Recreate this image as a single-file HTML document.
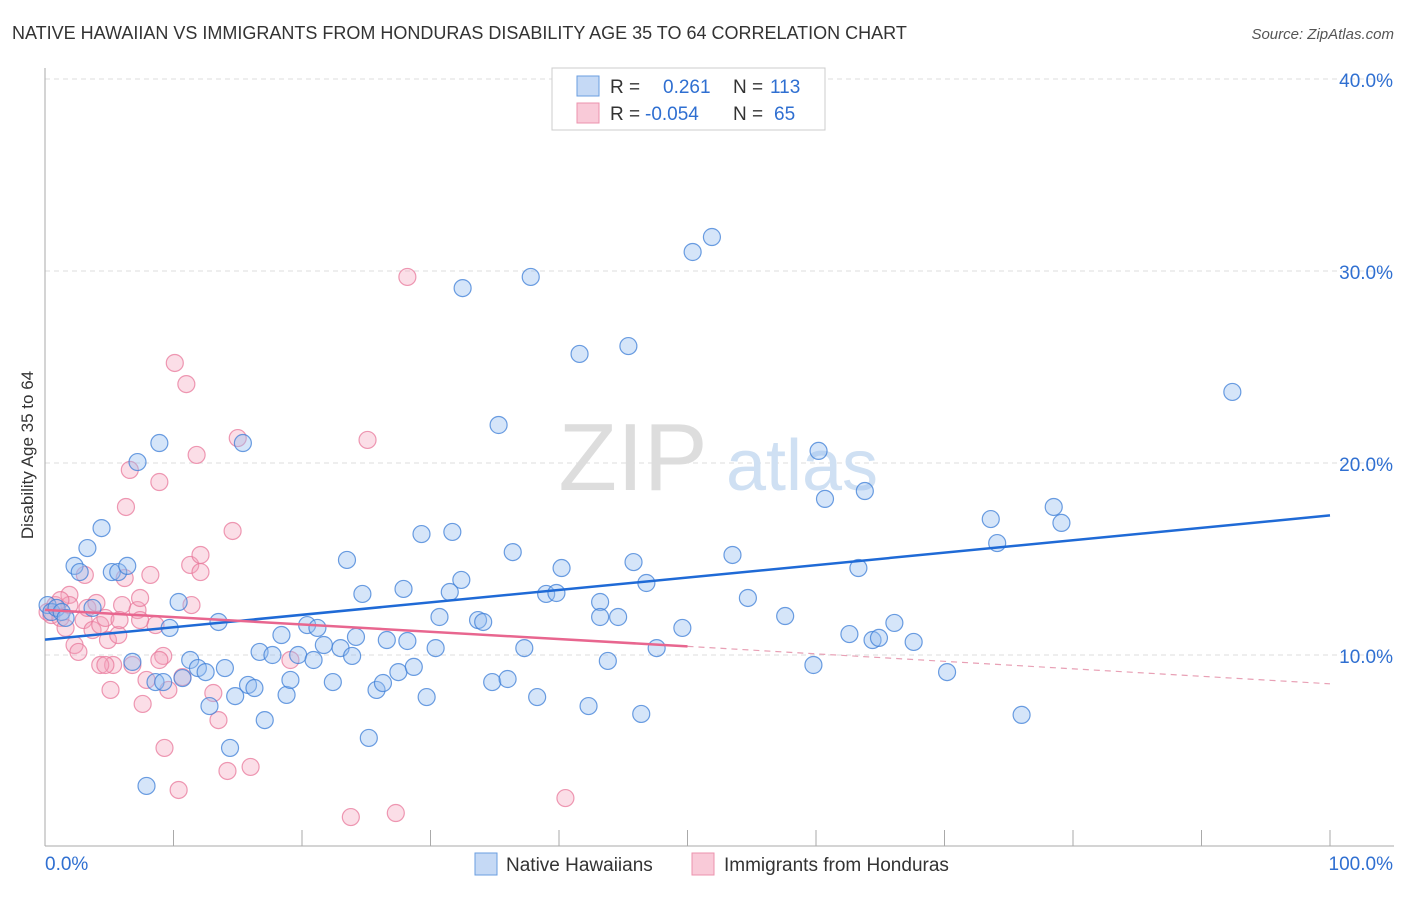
<!DOCTYPE html>
<html><head><meta charset="utf-8"><style>
body{margin:0;background:#fff;font-family:"Liberation Sans",sans-serif;}
svg text{font-family:"Liberation Sans",sans-serif;}
</style></head><body>
<svg id="chart" width="1406" height="892" viewBox="0 0 1406 892" xmlns="http://www.w3.org/2000/svg">
<text x="12" y="39" font-size="18" fill="#333">NATIVE HAWAIIAN VS IMMIGRANTS FROM HONDURAS DISABILITY AGE 35 TO 64 CORRELATION CHART</text>
<text x="1394" y="39" font-size="15" fill="#555" text-anchor="end" font-style="italic">Source: ZipAtlas.com</text>
<text transform="translate(33,455) rotate(-90)" font-size="17" fill="#333" text-anchor="middle">Disability Age 35 to 64</text>
<g id="grid"></g>
<g>
<text x="633" y="490" font-size="96" fill="#ddd" text-anchor="middle" font-family="Liberation Serif,serif">ZIP</text>
<text x="802" y="490" font-size="72" fill="#cfe0f3" text-anchor="middle">atlas</text>
</g>
<g id="axes"></g>
<g id="pink"></g>
<g id="blue"></g>
<g id="lines"></g>
<g>
<rect x="552" y="68" width="273" height="62" fill="#fff" stroke="#ccc"/>
<rect x="577" y="76" width="22" height="20" fill="#c5d9f5" stroke="#6a9ee0"/>
<rect x="577" y="103" width="22" height="20" fill="#f9cad8" stroke="#ec93ae"/>
<text x="610" y="93" font-size="19" fill="#333">R =</text>
<text x="663" y="93" font-size="19" fill="#2f6fd1">0.261</text>
<text x="733" y="93" font-size="19" fill="#333">N =</text>
<text x="770" y="93" font-size="19" fill="#2f6fd1">113</text>
<text x="610" y="120" font-size="19" fill="#333">R =</text>
<text x="645" y="120" font-size="19" fill="#2f6fd1">-0.054</text>
<text x="733" y="120" font-size="19" fill="#333">N =</text>
<text x="774" y="120" font-size="19" fill="#2f6fd1">65</text>
</g>
<g>
<rect x="475" y="853" width="22" height="22" fill="#c5d9f5" stroke="#6a9ee0"/>
<text x="506" y="871" font-size="19" fill="#333">Native Hawaiians</text>
<rect x="692" y="853" width="22" height="22" fill="#f9cad8" stroke="#ec93ae"/>
<text x="724" y="871" font-size="19" fill="#333">Immigrants from Honduras</text>
</g>
</svg>
<script>
const blueXPx=[48,52,57,62,66,75,80,87,93,101,112,118,127,133,138,146,155,160,163,170,178,183,190,198,205,210,218,225,230,235,243,248,255,260,265,273,281,287,291,298,307,313,318,324,333,340,347,352,356,363,369,376,383,387,398,404,407,414,422,427,436,440,452,461,450,463,478,483,492,498,507,513,524,531,537,546,556,562,580,589,600,600,608,618,628,633,641,646,657,682,692,712,732,748,785,813,819,825,850,859,865,873,879,894,914,947,991,997,1021,1054,1061,1232];
const blueYPx=[605,612,608,612,618,566,572,548,608,528,572,572,566,662,462,786,682,443,682,628,602,678,660,668,672,706,622,668,748,696,443,685,688,652,720,655,635,695,680,655,625,660,628,645,682,648,560,656,637,594,738,690,683,640,672,589,641,667,534,697,648,617,532,580,592,288,620,622,682,425,679,552,648,277,697,594,593,568,354,706,602,617,661,617,346,562,714,583,648,628,252,237,555,598,616,665,451,499,634,568,491,640,638,623,642,672,519,543,715,507,523,392];
const pinkXPx=[48,52,55,60,65,70,75,78,84,88,92,96,100,105,108,113,118,122,126,130,133,137,140,143,147,150,155,160,163,165,168,175,178,183,186,190,192,196,200,201,213,218,227,232,238,251,290,351,367,396,407,566,110,100,70,60,125,140,160,120,85,105];
const pinkYPx=[612,615,605,618,628,595,645,652,620,608,630,603,625,618,640,665,635,605,507,470,665,610,598,704,680,575,625,482,656,748,690,363,790,677,384,565,605,455,555,572,693,720,771,531,438,767,660,817,440,813,277,798,690,665,605,600,578,620,660,620,575,665];
// data values (percent)
const blueX=blueXPx.map(p=>+((p-45)/12.85).toFixed(1));
const blueY=blueYPx.map(p=>+((847-p)/19.2).toFixed(2));
const pinkX=pinkXPx.map(p=>+((p-45)/12.85).toFixed(1));
const pinkY=pinkYPx.map(p=>+((847-p)/19.2).toFixed(2));
const yTicks=[10,20,30,40];
const yTickLabels=["10.0%","20.0%","30.0%","40.0%"];
const xTicks=[0,10,20,30,40,50,60,70,80,90,100];
const blueTrend=[10.8,17.27];
const pinkTrend=[12.35,10.45,8.5];
const X=v=>45+v*12.85, Y=v=>847-v*19.2;
const NS="http://www.w3.org/2000/svg";
function mk(tag,attrs,parent){const e=document.createElementNS(NS,tag);for(const k in attrs)e.setAttribute(k,attrs[k]);parent.appendChild(e);return e;}
const grid=document.getElementById('grid'),axes=document.getElementById('axes');
yTicks.forEach((t,i)=>{
 const l=mk('line',{x1:45,x2:1394,y1:Y(t),y2:Y(t),stroke:'#ddd','stroke-dasharray':'5,4'},grid);
 
 
 const tx=mk('text',{x:1393,y:Y(t)+8,'font-size':19,fill:'#2f6fd1','text-anchor':'end'},axes);
 tx.textContent=yTickLabels[i];
 
 
});
const ya=mk('line',{x1:45,x2:45,y1:68,y2:846,stroke:'#aaa'},axes);


const xa=mk('line',{x1:45,x2:1394,y1:846,y2:846,stroke:'#aaa'},axes);


xTicks.forEach(t=>{
 const l=mk('line',{x1:X(t),x2:X(t),y1:830,y2:846,stroke:'#aaa'},axes);
 
 
});
const xl0=mk('text',{x:45,y:870,'font-size':19,fill:'#2f6fd1'},axes);xl0.textContent='0.0%';


const xl1=mk('text',{x:1393,y:870,'font-size':19,fill:'#2f6fd1','text-anchor':'end'},axes);xl1.textContent='100.0%';


const pg=document.getElementById('pink');
pinkX.forEach((x,i)=>{
 const c=mk('circle',{cx:X(x),cy:Y(pinkY[i]),r:8.5,fill:'rgba(244,160,185,0.35)',stroke:'rgba(232,120,155,0.75)','stroke-width':1.2},pg);
 
 
});
const bg=document.getElementById('blue');
blueX.forEach((x,i)=>{
 const c=mk('circle',{cx:X(x),cy:Y(blueY[i]),r:8.5,fill:'rgba(150,190,240,0.4)',stroke:'rgba(60,125,215,0.75)','stroke-width':1.2},bg);
 
 
});
const lg=document.getElementById('lines');
const bl=mk('line',{x1:X(0),y1:Y(blueTrend[0]),x2:X(100),y2:Y(blueTrend[1]),stroke:'#1f6ad6','stroke-width':2.5},lg);


const pl=mk('line',{x1:X(0),y1:Y(pinkTrend[0]),x2:X(50),y2:Y(pinkTrend[1]),stroke:'#e8668f','stroke-width':2.5},lg);


const pd=mk('line',{x1:X(50),y1:Y(pinkTrend[1]),x2:X(100),y2:Y(pinkTrend[2]),stroke:'#e8a0b5','stroke-width':1.2,'stroke-dasharray':'6,5'},lg);


</script>
</body></html>
